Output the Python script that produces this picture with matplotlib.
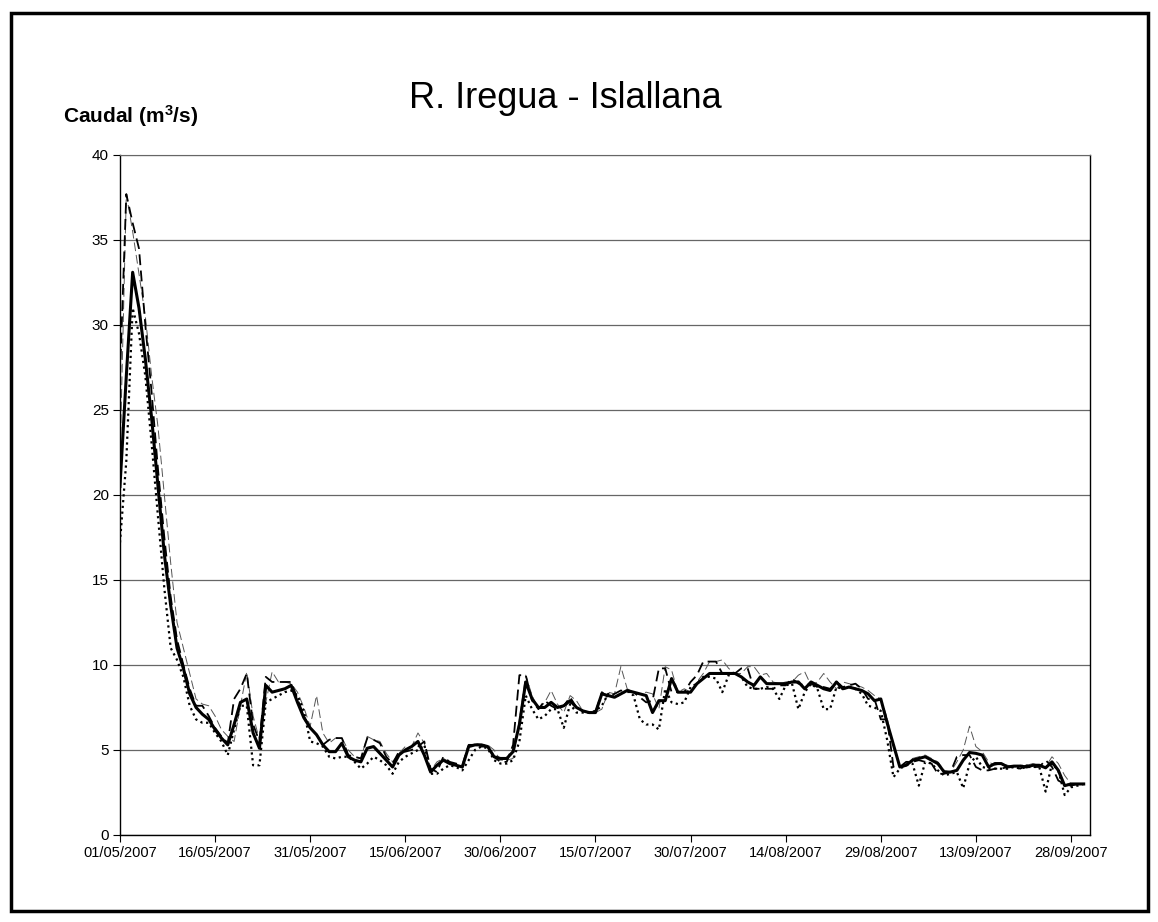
import matplotlib
matplotlib.use("Agg")
import matplotlib.pyplot as plt
import matplotlib.dates as mdates
from matplotlib.patches import Rectangle
import pandas as pd

plt.rcParams["font.family"] = ["Liberation Sans", "DejaVu Sans"]
plt.rcParams["mathtext.default"] = "regular"

#data: daily flow, 01/05/2007 - 30/09/2007
dates = pd.date_range("2007-05-01", "2007-09-30", freq="D")

caudal_main = [
    20.5, 27.0, 33.1, 31.0, 28.0, 24.5, 20.5, 16.5, 13.5, 11.0,
    9.8, 8.3, 7.5, 7.1, 6.8, 6.2, 5.7, 5.3, 6.5, 7.8,
    8.0, 6.0, 5.1, 8.8, 8.4, 8.5, 8.6, 8.8, 7.8, 6.9,
    6.3, 5.9, 5.3, 4.9, 4.9, 5.4, 4.6, 4.4, 4.3, 5.1,
    5.2, 4.8, 4.4, 4.0, 4.7, 5.0, 5.2, 5.5, 4.7, 3.7,
    4.1, 4.4, 4.2, 4.1, 4.0, 5.2, 5.3, 5.3, 5.2, 4.6,
    4.5, 4.5, 4.9, 6.5, 9.0, 8.0, 7.5, 7.5, 7.8, 7.5,
    7.6, 7.9, 7.5, 7.3, 7.2, 7.2, 8.3, 8.2, 8.1, 8.3,
    8.5, 8.4, 8.3, 8.2, 7.2, 7.9, 7.9, 9.2, 8.4, 8.4,
    8.4, 8.9, 9.2, 9.5, 9.5, 9.5, 9.5, 9.5, 9.3, 9.0,
    8.8, 9.3, 8.9, 8.9, 8.9, 8.9, 9.0, 9.0, 8.6, 9.0,
    8.8, 8.6, 8.5, 9.0, 8.6, 8.7, 8.6, 8.5, 8.3, 7.9,
    8.0, 6.6, 5.3, 4.0, 4.1, 4.4, 4.5, 4.6, 4.4, 4.2,
    3.7, 3.7, 3.8, 4.4, 4.85, 4.8, 4.7, 4.0, 4.2, 4.2,
    4.0, 4.05, 4.05, 4.0, 4.1, 4.1, 3.95, 4.3, 3.8, 2.9,
    3.0, 3.0, 3.0,
]

caudal_dashed = [
    27.0, 37.7, 36.0, 34.5, 30.0, 26.0, 21.5, 17.5, 14.0, 11.5,
    10.0, 8.6, 7.6, 7.6, 7.0, 6.3, 5.8, 5.4, 8.0, 8.6,
    9.5, 6.5, 5.5, 9.3, 9.0, 9.0, 9.0, 9.0, 8.0, 7.0,
    6.3, 5.9, 5.3, 5.6, 5.7, 5.7, 4.7, 4.6, 4.5, 5.7,
    5.6, 5.4, 4.6, 4.2, 4.9, 4.9, 5.0, 5.2, 5.5, 3.9,
    3.7, 4.6, 4.3, 4.2, 4.1, 5.3, 5.3, 5.2, 5.2, 4.6,
    4.3, 4.3, 5.3, 9.4, 9.4, 7.9, 7.4, 7.9, 7.6, 7.4,
    7.6, 8.1, 7.5, 7.3, 7.2, 7.2, 8.4, 8.1, 8.3, 8.5,
    8.4, 8.4, 8.1, 7.8, 7.9, 9.8, 9.8, 8.4, 8.4, 8.4,
    9.0, 9.4, 10.2, 10.2, 10.2, 9.5, 9.5, 9.5, 9.8, 9.8,
    8.6, 8.6, 8.6, 8.6, 8.8, 8.8, 9.2, 8.9, 8.8, 8.9,
    8.7, 8.7, 8.6, 9.0, 8.7, 8.8, 8.9, 8.6, 8.0, 8.0,
    6.8, 6.8, 4.0, 4.0, 4.3, 4.3, 4.4, 4.3, 4.2, 3.6,
    3.6, 3.7, 4.6, 4.7, 4.7, 4.0, 3.8, 3.8, 3.9, 3.9,
    4.0, 4.0, 3.9, 4.1, 4.0, 4.0, 4.4, 4.0, 3.2, 3.0,
    2.9, 3.0, 3.0,
]

caudal_thin = [
    22.0, 37.7, 35.5, 33.0, 30.5, 27.0, 24.0, 20.0, 16.0, 12.5,
    11.0, 9.5, 8.0, 7.7, 7.6, 7.0, 6.2, 5.8, 5.5, 7.6,
    9.6, 7.0, 5.6, 7.8, 9.6, 9.0, 9.0, 8.9, 8.4, 7.5,
    6.4, 8.2, 6.0, 5.4, 5.7, 5.7, 5.0, 4.6, 4.5, 5.8,
    5.6, 5.5, 4.8, 4.3, 4.8, 5.2, 5.2, 6.0, 5.4, 3.8,
    4.3, 4.5, 4.3, 4.1, 4.0, 5.2, 5.4, 5.3, 5.3, 5.0,
    4.4, 4.4, 4.5, 6.8, 9.4, 8.2, 7.4, 7.8, 8.5, 7.7,
    7.2, 8.2, 7.9, 7.3, 7.2, 7.2, 7.4, 8.4, 8.3, 9.9,
    8.6, 8.4, 8.3, 8.4, 8.3, 7.4, 9.9, 9.7, 8.4, 8.6,
    8.4, 9.0, 9.5, 10.2, 10.2, 10.3, 9.8, 9.5, 9.5, 9.9,
    9.9, 9.4, 9.5, 9.0, 8.9, 9.0, 9.0, 9.4, 9.6, 8.8,
    9.0, 9.5, 9.0, 8.6, 9.0, 8.9, 8.8, 8.7, 8.5, 8.2,
    8.0, 6.9, 5.2, 4.0, 4.2, 4.5, 4.6, 4.7, 4.5, 4.3,
    3.8, 3.7, 4.3, 5.0, 6.4, 5.2, 4.9, 4.3, 4.1, 4.2,
    4.1, 4.0, 4.1, 4.1, 4.2, 4.1, 4.0, 4.6, 4.2, 3.5,
    3.0, 3.0, 3.0,
]

caudal_dotted = [
    17.2, 22.0, 31.0, 29.5, 27.0, 23.0, 18.7, 14.5, 11.0, 10.3,
    9.3, 7.6, 6.8, 6.6, 6.6, 6.0, 5.5, 4.7, 6.2, 7.6,
    7.6, 4.1, 4.1, 7.8, 8.0, 8.2, 8.4, 8.5, 8.2, 7.3,
    5.5, 5.4, 5.2, 4.6, 4.5, 4.6, 4.6, 4.3, 3.9, 4.2,
    4.6, 4.4, 4.1, 3.6, 4.3, 4.6, 4.8, 5.0, 5.3, 3.6,
    3.6, 3.9, 4.1, 4.0, 3.8, 4.4, 5.0, 5.2, 5.1, 4.4,
    4.2, 4.2, 4.4, 5.5, 8.2, 7.4, 6.8, 7.0, 7.4, 7.4,
    6.3, 7.7, 7.2, 7.2, 7.2, 7.3, 7.6, 8.3, 8.1, 8.3,
    8.5, 8.2, 6.8, 6.5, 6.5, 6.2, 8.6, 7.8, 7.7, 7.8,
    8.7, 8.9, 9.3, 9.3, 9.2, 8.4, 9.4, 9.5, 9.3, 8.7,
    8.6, 8.6, 8.7, 8.6, 8.0, 8.8, 8.9, 7.4, 8.4, 8.9,
    8.6, 7.4, 7.4, 8.7, 8.6, 8.7, 8.6, 8.3, 7.6, 7.5,
    7.3, 5.6, 3.4, 3.9, 4.1, 4.2, 2.9, 4.3, 4.2, 3.8,
    3.5, 3.6, 3.7, 2.75, 4.2, 4.6, 4.0, 3.9, 3.9, 3.9,
    3.9, 4.0, 3.9, 4.0, 4.0, 4.0, 2.55, 4.2, 3.8, 2.35,
    2.8, 2.9, 3.0,
]

y_ticks = [0, 5, 10, 15, 20, 25, 30, 35, 40]
x_ticks = pd.date_range("2007-05-01", "2007-09-30", freq="15D")

#figure
fig = plt.figure(figsize=(11.58, 9.22), dpi=100)
ax = fig.add_axes([0.1036, 0.0944, 0.8377, 0.7375])

ax.plot(dates, caudal_thin, color="#555555", lw=0.7, dashes=(9, 4), zorder=2)
ax.plot(dates, caudal_dotted, color="black", lw=1.6, dashes=(1, 1.6), zorder=3)
ax.plot(dates, caudal_dashed, color="black", lw=1.3, dashes=(6, 3), zorder=4)
ax.plot(dates, caudal_main, color="black", lw=2.2, zorder=5)

ax.set_ylim(0, 40)
ax.set_yticks(y_ticks)
ax.set_xlim(pd.Timestamp("2007-05-01"), pd.Timestamp("2007-10-01"))
ax.set_xticks(x_ticks)
ax.xaxis.set_major_formatter(mdates.DateFormatter("%d/%m/%Y"))
ax.tick_params(axis="x", labelsize=10.5, length=5, width=0.8, pad=3)
ax.tick_params(axis="y", labelsize=11, length=5, width=0.8, pad=3)
ax.grid(axis="y", color="#666666", lw=0.9)
ax.set_axisbelow(True)
for side in ["left", "bottom", "right"]:
    ax.spines[side].set_color("black")
    ax.spines[side].set_linewidth(1.0)
ax.spines["top"].set_color("#666666")

fig.text(0.488, 0.893, "R. Iregua - Islallana", ha="center", va="center", fontsize=26)
fig.text(0.0544, 0.874, "Caudal (m$^3$/s)", ha="left", va="center",
         fontsize=15, fontweight="bold")

#outer frame
fig.patches.append(Rectangle((0.0095, 0.012), 0.982, 0.974, transform=fig.transFigure,
                             fill=False, edgecolor="black", lw=2.5))

plt.savefig("out.png", dpi=100)
